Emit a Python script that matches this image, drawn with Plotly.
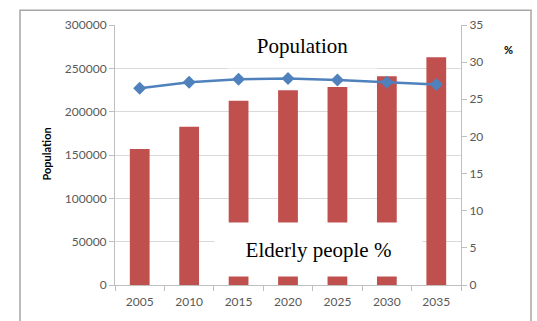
import plotly.graph_objects as go

years = ["2005", "2010", "2015", "2020", "2025", "2030", "2035"]
population = [157000, 182500, 212500, 224700, 228500, 241000, 262700]
elderly_pct = [26.5, 27.3, 27.7, 27.8, 27.6, 27.3, 27.0]

L, R, T, B = 115, 76, 25, 33
W, H = 537, 321
pw, ph = W - L - R, H - T - B

def px(x):
    return (x - L) / pw

def py(y):
    return (H - B - y) / ph

fig = go.Figure()
fig.add_trace(go.Bar(x=years, y=population, marker=dict(color="#c0504d", line=dict(width=0)),
                     yaxis="y", showlegend=False))
fig.add_trace(go.Scatter(x=years, y=elderly_pct, yaxis="y2", mode="lines+markers",
                         line=dict(color="#4f81bd", width=2.5),
                         marker=dict(symbol="diamond", size=10, color="#4f81bd"),
                         showlegend=False))

tickfont = dict(family="Lato", size=12, color="#595959")
fig.update_layout(
    width=W, height=H,
    margin=dict(l=L, r=R, t=T, b=B),
    paper_bgcolor="white", plot_bgcolor="white",
    bargap=0.6,
    xaxis=dict(type="category", tickson="boundaries", ticks="outside", ticklen=5,
               tickcolor="#bfbfbf", showline=True, linecolor="#bfbfbf", linewidth=1,
               tickfont=tickfont, showgrid=False, ticklabelstandoff=6),
    yaxis=dict(range=[0, 300000], dtick=50000, tickformat="d", ticks="outside", ticklen=5,
               tickcolor="#bfbfbf", showline=True, linecolor="#bfbfbf",
               gridcolor="#d9d9d9", gridwidth=1, tickfont=tickfont, zeroline=False),
    yaxis2=dict(range=[0, 35], dtick=5, overlaying="y", side="right", ticks="outside",
                ticklen=5, tickcolor="#bfbfbf", showline=True, linecolor="#bfbfbf",
                showgrid=False, tickfont=tickfont, zeroline=False),
)

fig.add_shape(type="rect", xref="paper", yref="paper",
              x0=px(20), x1=px(531), y0=py(335), y1=py(10),
              line=dict(color="#a6a6a6", width=1.5), fillcolor="rgba(0,0,0,0)", layer="above")

fig.add_annotation(text="Population", xref="paper", yref="paper", x=px(47), y=py(156),
                   xanchor="center", yanchor="middle",
                   textangle=-90, showarrow=False,
                   font=dict(family="Lato", size=11, color="#000000", weight="bold"))
fig.add_annotation(text="%", xref="paper", yref="paper", x=px(508), y=py(50),
                   xanchor="center", yanchor="middle", showarrow=False,
                   font=dict(family="Lato", size=11, color="#000000", weight="bold"))

fig.add_annotation(text="Population", xref="paper", yref="paper", x=px(302.5), y=py(46),
                   xanchor="center", yanchor="middle",
                   showarrow=False, bgcolor="white", width=149, height=44, borderpad=0,
                   font=dict(family="Liberation Serif", size=21, color="#000000"))
fig.add_annotation(text="Elderly people %", xref="paper", yref="paper", x=px(318.5), y=py(252.5),
                   xanchor="center", yanchor="middle",
                   showarrow=False, bgcolor="white", width=207, height=53, borderpad=0,
                   font=dict(family="Liberation Serif", size=21, color="#000000"))

fig.write_html("out.html")
